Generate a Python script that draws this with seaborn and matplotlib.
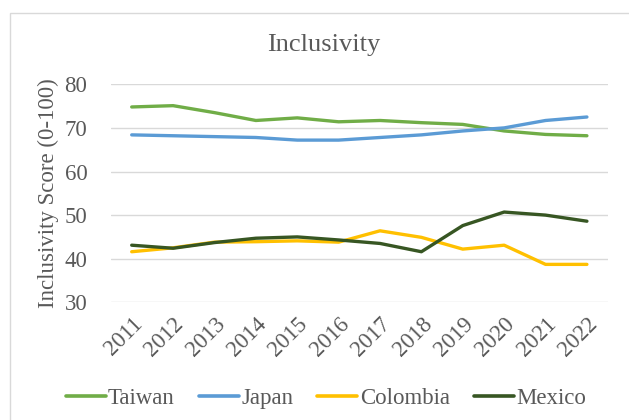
import numpy as np
import pandas as pd
import matplotlib
matplotlib.use("Agg")
import matplotlib.pyplot as plt
from matplotlib.patches import Rectangle
import seaborn as sns

years = ["2011", "2012", "2013", "2014", "2015", "2016",
         "2017", "2018", "2019", "2020", "2021", "2022"]
taiwan = [74.8, 75.1, 73.5, 71.7, 72.3, 71.4, 71.7, 71.2, 70.8, 69.3, 68.5, 68.2]
japan = [68.4, 68.2, 68.0, 67.8, 67.2, 67.2, 67.8, 68.4, 69.3, 70.0, 71.7, 72.5]
colombia = [41.6, 42.5, 43.8, 43.9, 44.1, 43.8, 46.4, 44.9, 42.2, 43.1, 38.7, 38.7]
mexico = [43.1, 42.4, 43.7, 44.7, 45.0, 44.3, 43.5, 41.6, 47.6, 50.7, 50.0, 48.6]

series = {"Taiwan": taiwan, "Japan": japan, "Colombia": colombia, "Mexico": mexico}
colors = {"Taiwan": "#70AD47", "Japan": "#5B9BD5",
          "Colombia": "#FFC000", "Mexico": "#375623"}

df = pd.concat(
    [pd.DataFrame({"pos": np.arange(len(years)), "score": vals, "country": name})
     for name, vals in series.items()],
    ignore_index=True,
)

sns.set_theme(style="white")
plt.rcParams["font.family"] = ["Liberation Serif", "DejaVu Serif"]
text_color = "#595959"
fs = 16.5

fig = plt.figure(figsize=(6.29, 4.2), dpi=100)
ax = fig.add_axes([0.1765, 0.2802, 0.966 - 0.1765, 0.7993 - 0.2802])

# outer chart-area frame
fig.patches.append(Rectangle((10 / 629, -0.1), 1.2, 1 - 13 / 420 + 0.1,
                             transform=fig.transFigure, fill=False,
                             edgecolor="#D9D9D9", linewidth=1.0, zorder=0))

sns.lineplot(data=df, x="pos", y="score", hue="country", palette=colors,
             linewidth=2.4, ax=ax, legend=False, sort=False)

ax.set_xlim(-0.5, len(years) - 0.5)
ax.set_ylim(30, 80)
ax.set_yticks([30, 40, 50, 60, 70, 80])
ax.set_xticks(np.arange(len(years)))
ax.set_xticklabels(years, rotation=45, ha="right", rotation_mode="anchor")
ax.tick_params(axis="both", length=0, labelsize=fs, colors=text_color)
ax.tick_params(axis="x", pad=8)
ax.tick_params(axis="y", pad=17)
ax.yaxis.grid(True, color="#D9D9D9", linewidth=1.0)
ax.xaxis.grid(False)
for s in ax.spines.values():
    s.set_visible(False)
ax.set_xlabel("")
ax.set_ylabel("Inclusivity Score (0-100)", fontsize=fs, color=text_color, labelpad=4)

fig.text(0.514, 0.893, "Inclusivity", ha="center", va="center",
         fontsize=19, color=text_color)

handles = [plt.Line2D([], [], color=colors[n], linewidth=2.6) for n in series]
fig.legend(handles, list(series.keys()), loc="center", bbox_to_anchor=(0.518, 0.052),
           ncol=4, frameon=False, fontsize=fs, handlelength=1.75,
           handletextpad=0.1, columnspacing=1.05, labelcolor=text_color)

fig.savefig("out.png", dpi=100)
